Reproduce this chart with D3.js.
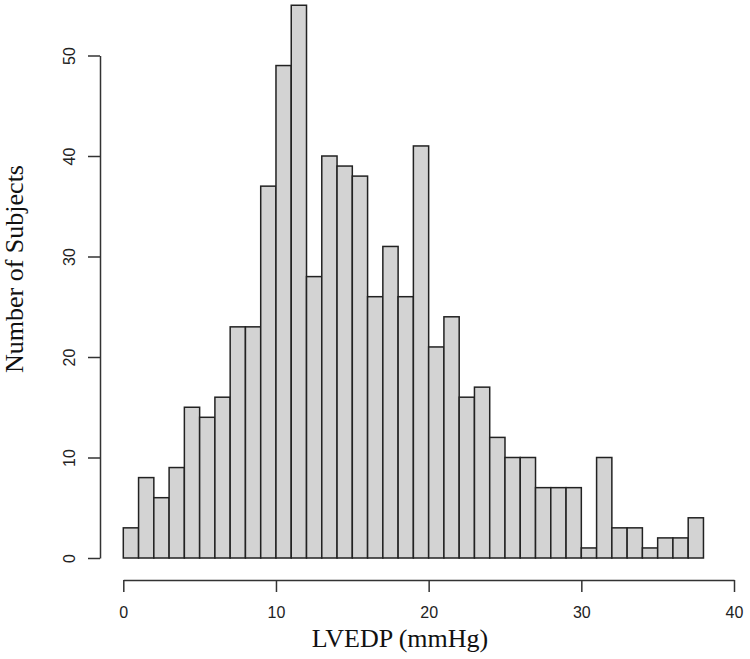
<!DOCTYPE html>
<html>
<head>
<meta charset="utf-8">
<script src="https://cdn.jsdelivr.net/npm/d3@7"></script>
<style>
  body { margin: 0; background: #fff; }
  svg { display: block; }
</style>
</head>
<body>
<svg id="chart" width="750" height="659"></svg>
<script>
// histogram of LVEDP, bins of 1 mmHg starting at 0
var binStart = 0;
var binWidth = 1;
var counts = [3, 8, 6, 9, 15, 14, 16, 23, 23, 37, 49, 55, 28, 40, 39, 38, 26, 31, 26, 41,
              21, 24, 16, 17, 12, 10, 10, 7, 7, 7, 1, 10, 3, 3, 1, 2, 2, 4];
var xTicks = [0, 10, 20, 30, 40];
var yTicks = [0, 10, 20, 30, 40, 50];
var xTitle = "LVEDP (mmHg)";
var yTitle = "Number of Subjects";

var svg = d3.select("#chart");

var x = d3.scaleLinear().domain([0, 40]).range([123.3, 734]);
var y = d3.scaleLinear().domain([0, 50]).range([558, 55.5]);

var bins = counts.map(function (c, i) {
  return { x0: binStart + i * binWidth, x1: binStart + (i + 1) * binWidth, n: c };
});

// bars
svg.append("g")
  .selectAll("rect")
  .data(bins)
  .join("rect")
  .attr("x", function (d) { return x(d.x0); })
  .attr("y", function (d) { return y(d.n); })
  .attr("width", function (d) { return x(d.x1) - x(d.x0); })
  .attr("height", function (d) { return y(0) - y(d.n); })
  .attr("fill", "#d3d3d3")
  .attr("stroke", "#222")
  .attr("stroke-width", 1.5);

// x axis (R style, detached below the bars)
var gx = svg.append("g")
  .attr("transform", "translate(0,580)")
  .call(d3.axisBottom(x).tickValues(xTicks).tickSize(12).tickSizeOuter(0));
gx.selectAll("path, line").attr("stroke", "#333").attr("stroke-width", 1.5);
gx.selectAll("text")
  .attr("y", 38)
  .attr("dy", "0")
  .attr("fill", "#222")
  .style("font-family", "'Liberation Sans', Arial, sans-serif")
  .style("font-size", "16px");

// y axis
var gy = svg.append("g")
  .attr("transform", "translate(100,0)")
  .call(d3.axisLeft(y).tickValues(yTicks).tickSize(12).tickSizeOuter(0));
gy.selectAll("path, line").attr("stroke", "#333").attr("stroke-width", 1.5);
gy.selectAll("text")
  .attr("x", 0)
  .attr("dy", "0")
  .attr("text-anchor", "middle")
  .attr("transform", "translate(-25,0) rotate(-90)")
  .attr("fill", "#222")
  .style("font-family", "'Liberation Sans', Arial, sans-serif")
  .style("font-size", "16px");

// titles
svg.append("text")
  .attr("x", 400)
  .attr("y", 647)
  .attr("text-anchor", "middle")
  .style("font-family", "'Liberation Serif', 'Times New Roman', serif")
  .style("font-size", "26px")
  .attr("fill", "#111")
  .text(xTitle);

svg.append("text")
  .attr("transform", "translate(23,269) rotate(-90)")
  .attr("text-anchor", "middle")
  .style("font-family", "'Liberation Serif', 'Times New Roman', serif")
  .style("font-size", "26px")
  .attr("fill", "#111")
  .text(yTitle);
</script>
</body>
</html>
